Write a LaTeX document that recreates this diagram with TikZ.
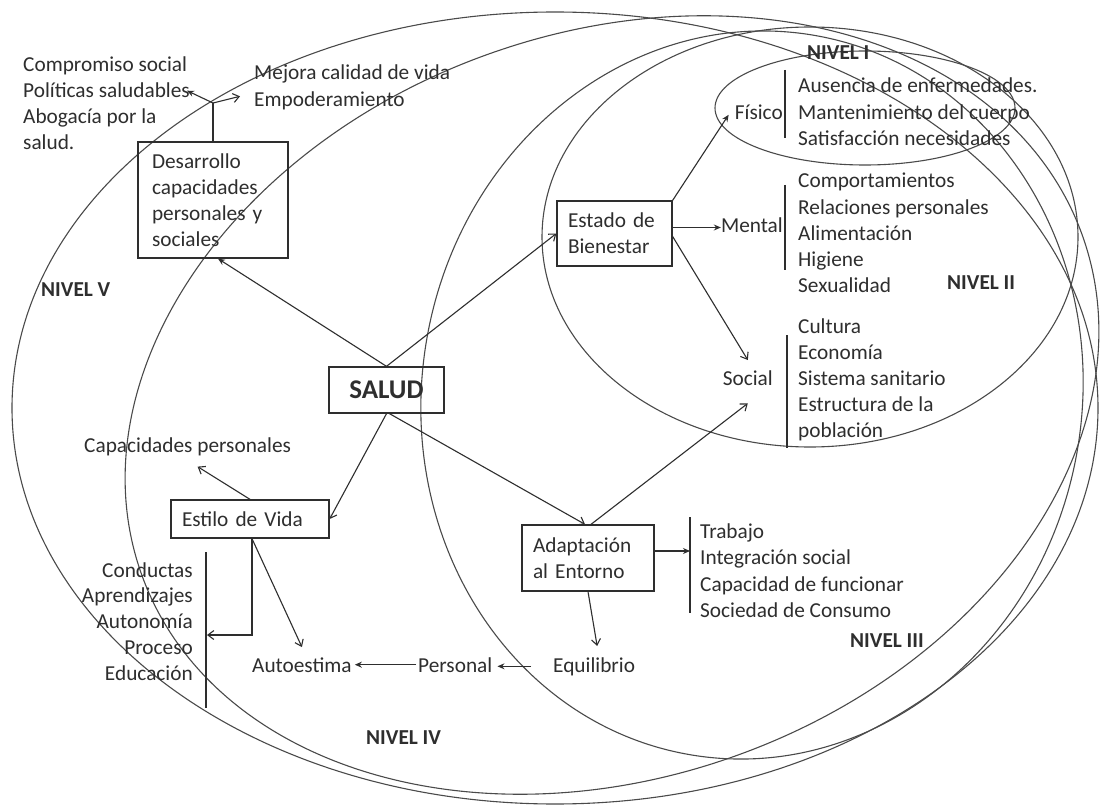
\documentclass[tikz,border=0pt]{standalone}
\usepackage{fontspec}
\setmainfont{Carlito}
\usetikzlibrary{arrows.meta,calc}
\definecolor{ink}{HTML}{2E2E2E}
\definecolor{ringc}{HTML}{4A4A4A}
\newcommand{\txtsize}{\fontsize{21.3}{26}\selectfont}
\begin{document}
\begin{tikzpicture}[x=1pt,y=-1pt,
  txt/.style={inner sep=0pt, text=ink, font=\txtsize},
  lvl/.style={inner sep=0pt, text=ink, font=\txtsize\bfseries},
  boxn/.style={draw=ink, line width=1.3pt, inner xsep=11pt, inner ysep=0pt, text=ink, font=\txtsize, align=left},
  con/.style={draw=ink, line width=1.1pt},
  oarr/.style={con, -{Straight Barb[length=6pt,width=9pt]}},
  farr/.style={con, -{Stealth[length=7pt,width=6pt]}},
  ring/.style={draw=ringc, line width=1.1pt},
  barl/.style={draw=ink, line width=1.2pt}]
\fill[white] (0,0) rectangle (1101,805);
\useasboundingbox (0,0) rectangle (1101,805);

% level ellipses
\draw[ring] (555,408) ellipse [x radius=543, y radius=396];
\draw[ring, rotate around={20:(612,405)}] (612,405) ellipse [x radius=500, y radius=372];
\draw[ring, rotate around={-10:(752,395)}] (752,395) ellipse [x radius=330, y radius=365];
\draw[ring] (810,237) ellipse [x radius=268, y radius=210];
\draw[ring] (865,108) ellipse [x radius=150, y radius=57];

% boxes
\node[boxn, minimum width=150pt, minimum height=116pt, text width=122pt, inner xsep=14pt] (des) at (213,200) {Desarrollo\\capacidades\\personales y\\sociales};
\node[boxn, minimum width=115pt, minimum height=65pt, text width=93pt] (bie) at (614.5,233.5) {Estado de\\Bienestar};
\node[boxn, minimum width=132pt, minimum height=66pt, text width=110pt] (ado) at (588,558) {Adaptación\\al Entorno};
\node[boxn, minimum width=158pt, minimum height=38pt, text width=136pt] (sty) at (250,519) {Estilo de Vida};
\node[draw=ink, line width=1.3pt, minimum width=115pt, minimum height=46pt, inner sep=0pt, text=ink, font=\fontsize{27}{30}\selectfont\bfseries] (sal) at (386.5,390) {SALUD};

% text lists
\foreach \t [count=\i] in {Compromiso social,Políticas saludables,Abogacía por la,salud.}
  \node[txt, anchor=base west] (cs\i) at (23,{72+26*(\i-1)}) {\t};
\node[txt, anchor=base west] (mj1) at (254,80) {Mejora calidad de vida};
\node[txt, anchor=base west] (mj2) at (254,107) {Empoderamiento};

\node[txt, anchor=base east] (fis) at (783,120) {Físico};
\foreach \t [count=\i] in {Ausencia de enfermedades.,Mantenimiento del cuerpo,Satisfacción necesidades}
  \node[txt, anchor=base west] (f\i) at (798,{93+26.5*(\i-1)}) {\t};
\node[txt, anchor=base east] (men) at (783,233) {Mental};
\foreach \t [count=\i] in {Comportamientos,Relaciones personales,Alimentación,Higiene,Sexualidad}
  \node[txt, anchor=base west] (m\i) at (798,{188+26.2*(\i-1)}) {\t};
\node[txt, anchor=base east] (soc) at (773,385) {Social};
\foreach \t [count=\i] in {Cultura,Economía,Sistema sanitario,Estructura de la,población}
  \node[txt, anchor=base west] (s\i) at (798,{333+26.2*(\i-1)}) {\t};
\foreach \t [count=\i] in {Trabajo,Integración social,Capacidad de funcionar,Sociedad de Consumo}
  \node[txt, anchor=base west] (a\i) at (700,{538+26.5*(\i-1)}) {\t};
\foreach \t [count=\i] in {Conductas,Aprendizajes,Autonomía,Proceso,Educación}
  \node[txt, anchor=base east] (c\i) at (193,{577+25.8*(\i-1)}) {\t};
\node[txt, anchor=base west] (cap) at (84,452) {Capacidades personales};
\node[txt, anchor=base west] (aut) at (252,672) {Autoestima};
\node[txt, anchor=base west] (per) at (418,672) {Personal};
\node[txt, anchor=base west] (equ) at (553,672) {Equilibrio};

% level labels
\node[lvl, anchor=base west] (n1) at (807,60) {NIVEL I};
\node[lvl, anchor=base west] (n2) at (947,290) {NIVEL II};
\node[lvl, anchor=base west] (n3) at (850,647) {NIVEL III};
\node[lvl, anchor=base west] (n4) at (366,744) {NIVEL IV};
\node[lvl, anchor=base west] (n5) at (41,297) {NIVEL V};

% brackets
\coordinate (b1t) at (785,70);  \coordinate (b1b) at (785,138);
\coordinate (b2t) at (785,185); \coordinate (b2b) at (785,270);
\coordinate (b3t) at (787,335); \coordinate (b3b) at (787,448);
\coordinate (b4t) at (690,517); \coordinate (b4b) at (690,613);
\coordinate (b5t) at (206,552); \coordinate (b5b) at (206,708);
\coordinate (b5m) at (207,635);
\draw[barl] (b1t) -- (b1b);
\draw[barl] (b2t) -- (b2b);
\draw[barl] (b3t) -- (b3b);
\draw[barl] (b4t) -- (b4b);
\draw[barl] (b5t) -- (b5b);

% connectors
\draw[farr] (sal.north) -- ([xshift=5pt]des.south);
\draw[oarr] (sal.north) -- (bie.west);
\draw[farr] (bie.north east) -- ([xshift=-6pt,yshift=-2pt]fis.west);
\draw[farr] ([yshift=6pt]bie.east) -- ([yshift=6pt]bie.east -| men.west);
\draw[oarr] ([yshift=-3pt]bie.east) -- ([yshift=10pt]soc.north);
\draw[oarr] (sal.south) -- (sty.east);
\draw[oarr] ([xshift=3pt]sal.south) -- ([xshift=-3pt]ado.north);
\draw[oarr] ([xshift=3pt]ado.north) -- ([yshift=-18pt]soc.south);
\draw[farr] ([yshift=7pt]ado.east) -- ([yshift=7pt]ado.east -| b4t);
\draw[oarr] (ado.south) -- ([xshift=3pt,yshift=11pt]equ.north);
\draw[farr] ([xshift=-22pt]equ.west) -- ([xshift=5pt]per.east |- equ.west);
\draw[farr] ([xshift=-2pt]per.west) -- ([xshift=3pt]aut.east |- per.west);
\draw[oarr] ([xshift=2pt]sty.south) -- ([yshift=10pt]aut.north);
\draw[oarr] ([xshift=2pt]sty.south) |- (b5m);
\draw[oarr] (sty.north) -- ([xshift=10pt,yshift=-11pt]cap.south);
\coordinate (jn) at (213,103);
\draw[con] (des.north) -- (jn);
\draw[farr] (jn) -- ([xshift=-3pt]cs2.east);
\draw[oarr] (jn) -- ([xshift=-14pt,yshift=5pt]mj2.west);
\end{tikzpicture}
\end{document}
